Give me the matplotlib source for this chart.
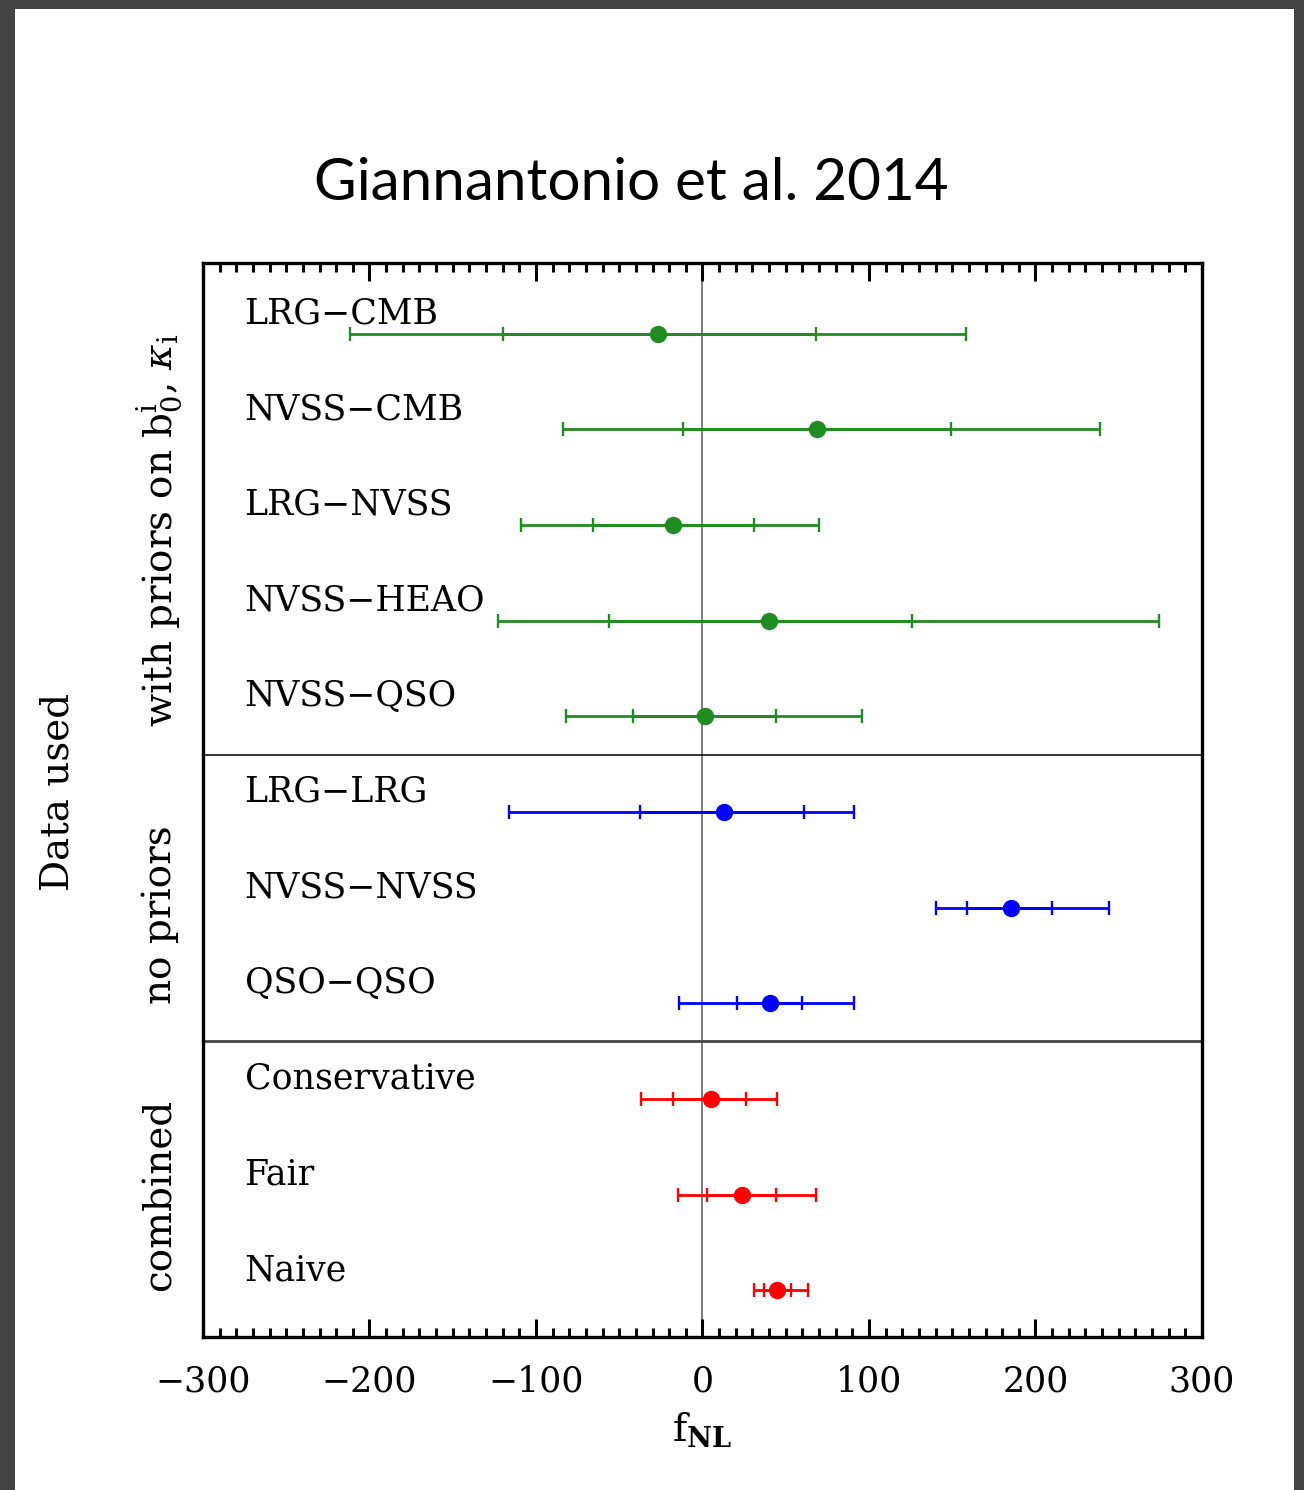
import numpy as np
import matplotlib.pyplot as plt
from matplotlib.patches import Rectangle
from matplotlib.ticker import MultipleLocator

plt.rcParams["mathtext.fontset"] = "dejavuserif"

labels = ["LRG\u2212CMB", "NVSS\u2212CMB", "LRG\u2212NVSS", "NVSS\u2212HEAO", "NVSS\u2212QSO",
          "LRG\u2212LRG", "NVSS\u2212NVSS", "QSO\u2212QSO",
          "Conservative", "Fair", "Naive"]
fnl = [-27, 69, -18, 40, 1.5, 13, 185, 40.5, 5, 24, 45]
lo1 = [-120, -12, -66, -56, -42, -37.5, 159, 21, -18, 3, 37]
hi1 = [68, 149, 31, 126, 44, 61, 210, 60, 26, 44, 53]
lo2 = [-212, -84, -109, -123, -82, -116, 140, -14, -37, -15, 31]
hi2 = [158, 239, 70, 274, 96, 91, 244, 91, 45, 68, 63.5]
colors = ["forestgreen"] * 5 + ["blue"] * 3 + ["red"] * 3

fig = plt.figure(figsize=(13.04, 14.90), dpi=100, facecolor="#444444")
fig.patches.append(Rectangle((15 / 1304, 0), 1279 / 1304, 1 - 9 / 1490,
                             transform=fig.transFigure, facecolor="white",
                             edgecolor="none", zorder=-10))
ax = fig.add_axes([203 / 1304, 1 - 1337 / 1490, 999 / 1304, 1074 / 1490])

y = np.arange(len(labels))
fnl = np.array(fnl)
lo1, hi1, lo2, hi2 = map(np.array, (lo1, hi1, lo2, hi2))

ax.axvline(0, color="#666666", lw=1.2, zorder=1)
ax.axhline(4.4, color="black", lw=1.1, zorder=1)
ax.axhline(7.4, color="#444444", lw=2.0, zorder=1)

for i in range(len(labels)):
    c = colors[i]
    ax.errorbar(fnl[i], y[i], xerr=[[fnl[i] - lo2[i]], [hi2[i] - fnl[i]]],
                fmt="none", ecolor=c, elinewidth=2.0, capsize=5, capthick=1.7, zorder=2)
    ax.errorbar(fnl[i], y[i], xerr=[[fnl[i] - lo1[i]], [hi1[i] - fnl[i]]],
                fmt="none", ecolor=c, elinewidth=2.0, capsize=5, capthick=1.7, zorder=2)
    ax.plot(fnl[i], y[i], "o", color=c, ms=11.5, zorder=3)
    ax.text(-275, y[i] - 0.21, labels[i], family="DejaVu Serif", fontsize=25,
            va="center", ha="left")

ax.set_xlim(-300, 300)
ax.set_ylim(10.49, -0.74)
ax.xaxis.set_major_locator(MultipleLocator(100))
ax.xaxis.set_minor_locator(MultipleLocator(10))
ax.set_yticks([])
ax.tick_params(axis="x", which="both", direction="in", top=True, bottom=True, width=2.2)
ax.tick_params(axis="x", which="major", length=13, pad=20, labelsize=25)
ax.tick_params(axis="x", which="minor", length=6.5)
for lab in ax.get_xticklabels():
    lab.set_family("DejaVu Serif")
for s in ax.spines.values():
    s.set_linewidth(2.4)

ax.set_xlabel(r"$\mathrm{f}_{\mathbf{NL}}$", fontsize=28, labelpad=8)

# group labels down the left side
fig.text(160 / 1304, 1 - 530 / 1490, r"with priors on $\mathrm{b}_0^\mathrm{i}$, $\kappa_\mathrm{i}$",
         rotation=90, family="DejaVu Serif", fontsize=28, ha="center", va="center")
fig.text(160 / 1304, 1 - 915 / 1490, "no priors", rotation=90,
         family="DejaVu Serif", fontsize=28, ha="center", va="center")
fig.text(160 / 1304, 1 - 1195 / 1490, "combined", rotation=90,
         family="DejaVu Serif", fontsize=28, ha="center", va="center")
fig.text(58 / 1304, 1 - 792 / 1490, "Data used", rotation=90,
         family="DejaVu Serif", fontsize=28, ha="center", va="center")

fig.text(631 / 1304, 1 - 183 / 1490, "Giannantonio et al. 2014",
         family="Lato", fontsize=42, ha="center", va="center")

fig.savefig("out.png", dpi=100)
